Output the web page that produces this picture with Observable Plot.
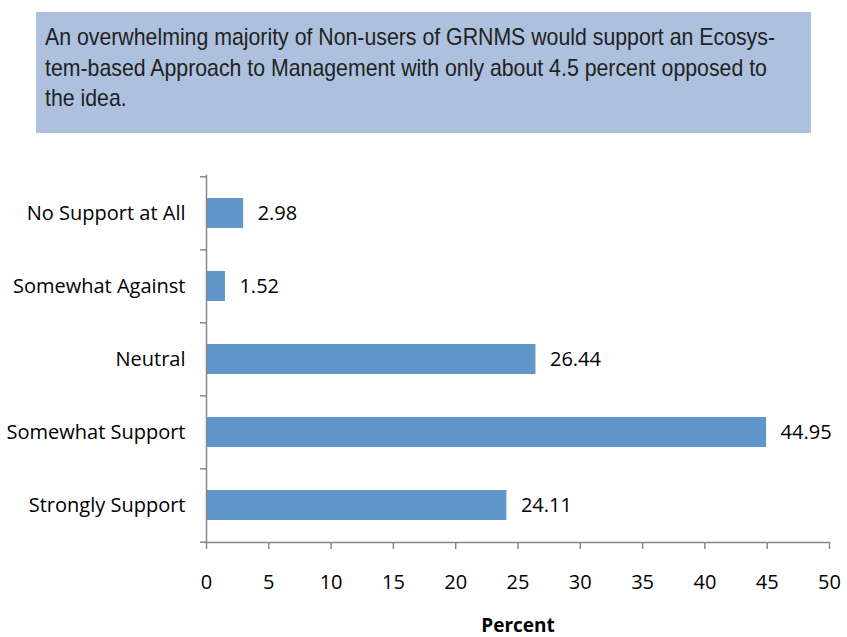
<!DOCTYPE html>
<html>
<head>
<meta charset="utf-8">
<script src="https://cdn.jsdelivr.net/npm/d3@7"></script>
<script src="https://cdn.jsdelivr.net/npm/@observablehq/plot@0.6"></script>
<style>
  body { margin: 0; background: #fff; }
  #wrap { width: 847px; height: 637px; position: relative; background: #fff; overflow: hidden; }
  #header { height: 150px; position: relative; }
  #box { position: absolute; left: 36px; top: 12px; width: 775px; height: 121px; background: #adc1de;
         box-sizing: border-box; padding: 10px 0 0 9px; overflow: hidden; }
  #boxtext { display: inline-block; white-space: nowrap; transform: scaleX(0.887); transform-origin: 0 0;
         font-family: "Liberation Sans", Arial, sans-serif; font-size: 24px; line-height: 30.5px; color: #222; }
  #chart svg { display: block; overflow: visible; }
</style>
</head>
<body>
<div id="wrap">
  <div id="header"><div id="box"><span id="boxtext">An overwhelming majority of Non-users of GRNMS would support an Ecosys-<br>tem-based Approach to Management with only about 4.5 percent opposed to<br>the idea.</span></div></div>
  <div id="chart"></div>
</div>
<script>
const categories = ["No Support at All", "Somewhat Against", "Neutral", "Somewhat Support", "Strongly Support"];
const values = [2.98, 1.52, 26.44, 44.95, 24.11];
const labels = ["2.98", "1.52", "26.44", "44.95", "24.11"];
const xTicks = [0, 5, 10, 15, 20, 25, 30, 35, 40, 45, 50];

const data = categories.map((c, i) => ({category: c, value: values[i], label: labels[i]}));

const W = 847, H = 487, mT = 25, mB = 95, mL = 206, mR = 18;
const step = (H - mT - mB) / categories.length;
const tickLen = 6 * 50 / (W - mL - mR); // 6px expressed in x units

const chart = Plot.plot({
  width: W,
  height: H,
  marginTop: mT,
  marginBottom: mB,
  marginLeft: mL,
  marginRight: mR,
  style: {fontFamily: "'Open Sans', sans-serif", fontSize: "20px", color: "#000", background: "#fff"},
  x: {domain: [0, 50]},
  y: {domain: categories, paddingInner: 0.59, paddingOuter: 0.295},
  marks: [
    Plot.barX(data, {y: "category", x: "value", fill: "#6096c9"}),
    Plot.text(data, {y: "category", x: "value", text: "label", textAnchor: "start", dx: 14, fill: "#000", fontSize: 20}),
    Plot.axisY({tickSize: 0, tickPadding: 21, label: null, tickFormat: d => d, fontSize: 20}),
    Plot.ruleY(categories, {y: d => d, x1: -tickLen, x2: 0, dy: -step / 2, stroke: "#888", strokeWidth: 1.5}),
    Plot.ruleY([categories[categories.length - 1]], {y: d => d, x1: -tickLen, x2: 0, dy: step / 2, stroke: "#888", strokeWidth: 1.5}),
    Plot.axisX({ticks: xTicks, tickSize: 7, tickPadding: 25, label: null, stroke: "#888", strokeWidth: 1.5, fontSize: 20}),
    Plot.frame({anchor: "left", stroke: "#888", strokeWidth: 1.5}),
    Plot.frame({anchor: "bottom", stroke: "#888", strokeWidth: 1.5}),
    Plot.text(["Percent"], {frameAnchor: "bottom", dy: 89, fontWeight: "bold", fontSize: 19, fill: "#000"})
  ]
});
document.getElementById("chart").appendChild(chart);
</script>
</body>
</html>
